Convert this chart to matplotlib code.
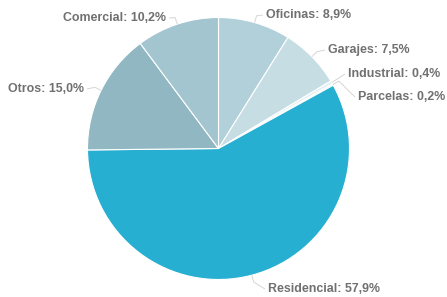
import numpy as np
import matplotlib
matplotlib.use("Agg")
import matplotlib.pyplot as plt

categories = ["Oficinas", "Garajes", "Industrial", "Parcelas", "Residencial", "Otros", "Comercial"]
values = [8.9, 7.5, 0.4, 0.2, 57.9, 15.0, 10.2]
labels = ["Oficinas: 8,9%", "Garajes: 7,5%", "Industrial: 0,4%", "Parcelas: 0,2%",
          "Residencial: 57,9%", "Otros: 15,0%", "Comercial: 10,2%"]
colors = ["#b1d0d9", "#c6dde4", "#e2f0f4", "#d8f2f8", "#27afd1", "#91b7c3", "#a3c5cf"]

# label anchor positions in pixel coords (x, y from top), alignment
label_pos = [(266, 15, "left"), (328, 50, "left"), (348, 74, "left"), (358, 97, "left"),
             (268, 289, "left"), (84, 89, "right"), (166, 18, "right")]

W, H = 447, 297
fig = plt.figure(figsize=(W / 100, H / 100), dpi=100)
ax = fig.add_axes([0, 0, 1, 1])

cx, cy, r = 218.5, H - 148.5, 131
wedges, _ = ax.pie(values, colors=colors, startangle=90, counterclock=False,
                   center=(cx, cy), radius=r, frame=True,
                   wedgeprops=dict(edgecolor="white", linewidth=0.8))
ax.set_xlim(0, W)
ax.set_ylim(0, H)
ax.set_aspect("equal")
ax.axis("off")

for w, lab, (lx, ly, ha) in zip(wedges, labels, label_pos):
    ang = np.deg2rad((w.theta1 + w.theta2) / 2)
    ex, ey = cx + r * np.cos(ang), cy + r * np.sin(ang)
    ox, oy = cx + (r + 7) * np.cos(ang), cy + (r + 7) * np.sin(ang)
    ty = H - ly
    tx = lx - 3 if ha == "left" else lx + 3
    ax.plot([ex, ox, tx], [ey, oy, ty], color="#d6d6d6", lw=0.7, solid_capstyle="butt")
    ax.text(lx, ty, lab, ha=ha, va="center", fontsize=8.9, fontweight="bold",
            family="Liberation Sans", color="#707070")

fig.savefig("out.png", dpi=100, facecolor="white")
